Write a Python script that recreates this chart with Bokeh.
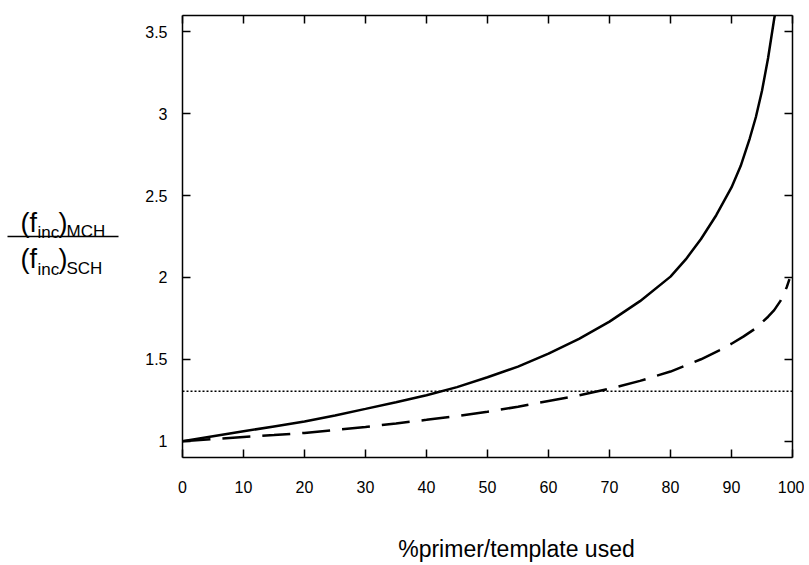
from bokeh.plotting import figure
from bokeh.layouts import row
from bokeh.models import (LinearAxis, FixedTicker, CustomJSTickFormatter, Range1d)
from bokeh.core.properties import value
from bokeh.embed import file_html
from bokeh.resources import INLINE

# ---- data ----
x_ticks = [0, 10, 20, 30, 40, 50, 60, 70, 80, 90, 100]
x_tick_labels = ["0", "10", "20", "30", "40", "50", "60", "70", "80", "90", "100"]
y_ticks = [1, 1.5, 2, 2.5, 3, 3.5]
y_tick_labels = ["1", "1.5", "2", "2.5", "3", "3.5"]

# solid curve
mch_x = [0, 5, 10, 15, 20, 25, 30, 35, 40, 45, 50, 55, 60, 65, 70, 75, 80,
         82.5, 85, 87.5, 90, 91.5, 93, 94, 95, 96, 97, 97.2]
mch_y = [1.0, 1.03, 1.06, 1.09, 1.12, 1.157, 1.197, 1.238, 1.28, 1.33, 1.39,
         1.455, 1.535, 1.625, 1.73, 1.855, 2.005, 2.11, 2.235, 2.38, 2.55,
         2.68, 2.85, 2.98, 3.14, 3.34, 3.58, 3.62]

# dashed curve
sch_x = [0, 5, 10, 15, 20, 25, 30, 35, 40, 45, 50, 55, 60, 65, 70, 75, 80, 85,
         88, 90, 92, 94, 95, 96, 97, 98, 98.6, 99.1, 99.5]
sch_y = [1.0, 1.012, 1.025, 1.037, 1.05, 1.068, 1.087, 1.108, 1.13, 1.153,
         1.18, 1.21, 1.245, 1.28, 1.32, 1.368, 1.425, 1.50, 1.555, 1.595, 1.64,
         1.69, 1.725, 1.76, 1.80, 1.855, 1.90, 1.945, 1.99]

# dotted horizontal reference line
threshold_x = [0, 100]
threshold_y = [1.305, 1.305]

x_title = "%primer/template used"

FONT = "Liberation Sans"
H = 565
FRAME_TOP, FRAME_BOTTOM = 15, 457

# ---------------- main chart ----------------
p = figure(width=684, height=H, x_range=Range1d(0, 100), y_range=Range1d(0.9, 3.6),
           output_backend="svg", toolbar_location=None,
           min_border_left=62, min_border_right=12, min_border_top=FRAME_TOP,
           min_border_bottom=H - FRAME_BOTTOM)
p.grid.visible = False
p.outline_line_color = None
p.background_fill_color = "white"
p.border_fill_color = "white"

def style_axis(ax, ticks, labels=None):
    ax.ticker = FixedTicker(ticks=ticks)
    ax.axis_line_color = "black"
    ax.axis_line_width = 1.5
    ax.major_tick_line_color = "black"
    ax.major_tick_line_width = 1.5
    ax.major_tick_in = 8
    ax.major_tick_out = 0
    ax.minor_tick_line_color = None
    ax.major_label_text_font = FONT
    ax.major_label_text_font_size = "16px"
    ax.major_label_text_color = "black"
    if labels is None:
        ax.formatter = CustomJSTickFormatter(code="return ''")
        ax.major_label_standoff = 0
    else:
        ax.major_label_overrides = {t: l for t, l in zip(ticks, labels)}

style_axis(p.xaxis[0], x_ticks, x_tick_labels)
p.xaxis[0].major_label_standoff = 23
style_axis(p.yaxis[0], y_ticks, y_tick_labels)
p.yaxis[0].major_label_standoff = 15

top = LinearAxis()
style_axis(top, x_ticks)
p.add_layout(top, "above")
right = LinearAxis()
style_axis(right, y_ticks)
p.add_layout(right, "right")

p.line(threshold_x, threshold_y, line_color="black", line_width=1.5, line_dash="2 2")
p.line(sch_x, sch_y, line_color="black", line_width=2.5, line_dash="28 12")
p.line(mch_x, mch_y, line_color="black", line_width=2.5)

# x-axis title, placed as a single label of an extra (invisible) axis below
title_pos = 54.75
title_axis = LinearAxis(ticker=FixedTicker(ticks=[title_pos]),
                        major_label_overrides={title_pos: x_title},
                        axis_line_color=None, major_tick_line_color=None,
                        minor_tick_line_color=None, major_tick_in=0, major_tick_out=0,
                        major_label_standoff=40, major_label_text_font=FONT,
                        major_label_text_font_size="23px",
                        major_label_text_color="black")
p.add_layout(title_axis, "below")

# ---------------- y-axis label panel (fraction) ----------------
# frames of a row are aligned, so this panel's frame spans canvas y 15..457
lp = figure(width=120, height=H, x_range=Range1d(0, 120),
            y_range=Range1d(FRAME_BOTTOM, FRAME_TOP),
            output_backend="svg", toolbar_location=None, min_border=0,
            x_axis_type=None, y_axis_type=None)
lp.grid.visible = False
lp.outline_line_color = None
lp.background_fill_color = "white"
lp.border_fill_color = "white"

def txt(s, x, y, size):
    lp.text(x=[x], y=[y], text=[s], text_font=value(FONT), text_font_size=size,
            text_color="black", text_align="left", text_baseline="alphabetic")

txt("(f", 20, 222, "27px")
txt("inc", 37, 232, "17px")
txt(")", 58, 222, "27px")
txt("MCH", 66, 231, "17px")
lp.line([7, 118], [236, 236], line_color="black", line_width=1.3)
txt("(f", 20, 258.5, "27px")
txt("inc", 37, 268.5, "17px")
txt(")", 58, 258.5, "27px")
txt("SCH", 66, 267.5, "17px")

layout = row(lp, p, spacing=0)
open("out.html", "w").write(file_html(layout, INLINE))
